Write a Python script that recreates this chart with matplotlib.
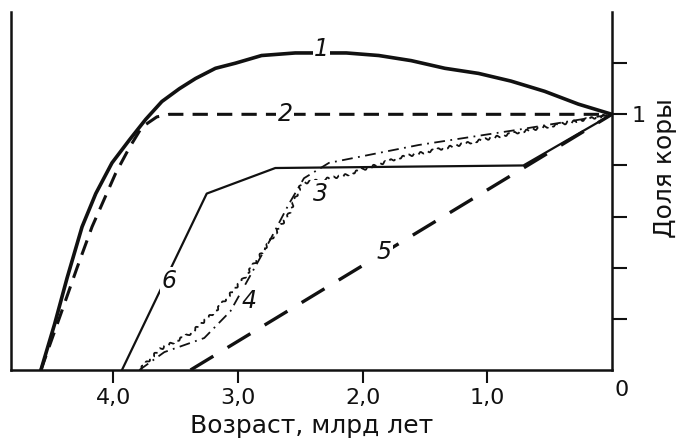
import matplotlib
matplotlib.use("Agg")
import matplotlib.pyplot as plt

plt.rcParams["font.family"] = ["DejaVu Sans"]

# ages (Gyr) and crust fraction for each curve
age_1 = [4.58, 4.47, 4.37, 4.25, 4.14, 4.01, 3.87, 3.74, 3.61, 3.47, 3.34, 3.18,
         3.02, 2.81, 2.54, 2.13, 1.87, 1.61, 1.34, 1.07, 0.81, 0.54, 0.27, 0.0]
val_1 = [0.0, 0.18, 0.36, 0.56, 0.69, 0.81, 0.90, 0.98, 1.05, 1.10, 1.14, 1.18,
         1.20, 1.23, 1.24, 1.24, 1.23, 1.21, 1.18, 1.16, 1.13, 1.09, 1.04, 1.0]

age_2 = [4.58, 4.42, 4.29, 4.17, 3.98, 3.87, 3.77, 3.65, 3.55, 0.0]
val_2 = [0.0, 0.22, 0.40, 0.56, 0.77, 0.87, 0.95, 0.99, 1.0, 1.0]

age_3 = [3.79, 3.59, 3.27, 3.06, 2.74, 2.59, 2.47, 2.27, 1.55, 0.75, 0.0]
val_3 = [0.0, 0.07, 0.125, 0.23, 0.51, 0.65, 0.75, 0.81, 0.88, 0.94, 1.0]

age_4 = [3.79, 3.63, 3.39, 3.18, 2.95, 2.82, 2.59, 2.49, 2.15, 1.71, 0.75, 0.0]
val_4 = [0.0, 0.08, 0.14, 0.23, 0.36, 0.45, 0.61, 0.73, 0.76, 0.83, 0.93, 1.0]

age_5 = [3.38, 0.0]
val_5 = [0.0, 1.0]

age_6 = [3.93, 3.25, 2.70, 0.71, 0.0]
val_6 = [0.0, 0.69, 0.79, 0.80, 1.0]

# curve numbers and where they sit
curve_labels = ["1", "2", "3", "4", "5", "6"]
label_age = [2.33, 2.62, 2.34, 2.91, 1.83, 3.55]
label_val = [1.255, 1.0, 0.69, 0.27, 0.46, 0.35]

x_ticks = [4.0, 3.0, 2.0, 1.0]
x_tick_labels = ["4,0", "3,0", "2,0", "1,0"]
y_ticks = [0.2, 0.4, 0.6, 0.8, 1.0, 1.2]
y_tick_labels = ["", "", "", "", "1", ""]

fig = plt.figure(figsize=(6.79, 4.43), dpi=100)
ax = fig.add_axes([0.0162, 0.1648, 0.885, 0.808])

ink = "#111111"
ax.plot(age_1, val_1, color=ink, lw=2.6, solid_capstyle="round",
        solid_joinstyle="round")
ax.plot(age_2, val_2, color=ink, lw=2.2, dashes=(5, 3))
ax.plot(age_3, val_3, color=ink, lw=1.3, dashes=(6, 3, 1, 3))
l4, = ax.plot(age_4, val_4, color=ink, lw=1.3, dashes=(4, 3))
l4.set_sketch_params(1.2, 6, 1)
ax.plot(age_5, val_5, color=ink, lw=2.4, dashes=(8, 5))
ax.plot(age_6, val_6, color=ink, lw=1.6)

for t, a, v in zip(curve_labels, label_age, label_val):
    ax.text(a, v, t, fontsize=17, style="italic", ha="center", va="center",
            color=ink, zorder=5,
            bbox=dict(facecolor="white", edgecolor="none", pad=1.0))

ax.set_xlim(4.82, 0.0)
ax.set_ylim(0.0, 1.40)

ax.spines["top"].set_visible(False)
for side in ["left", "bottom", "right"]:
    ax.spines[side].set_linewidth(1.8)
    ax.spines[side].set_color(ink)

ax.set_xticks(x_ticks)
ax.set_xticklabels(x_tick_labels)
ax.tick_params(axis="x", direction="out", length=9, width=1.5, pad=4,
               labelsize=16, colors=ink)

ax.yaxis.tick_right()
ax.set_yticks(y_ticks)
ax.set_yticklabels(y_tick_labels)
ax.tick_params(axis="y", direction="out", length=11, width=1.5, pad=3,
               labelsize=16, colors=ink)
ax.tick_params(axis="y", which="both", left=False)

ax.text(-0.08, -0.08, "0", fontsize=16, ha="center", va="center", color=ink,
        clip_on=False)

ax.set_xlabel("Возраст, млрд лет", fontsize=18, color=ink, labelpad=4)
ax.set_ylabel("Доля коры", fontsize=18, color=ink)
ax.yaxis.set_label_position("right")
ax.yaxis.set_label_coords(1.068, 0.565)

fig.savefig("out.png", dpi=100)
